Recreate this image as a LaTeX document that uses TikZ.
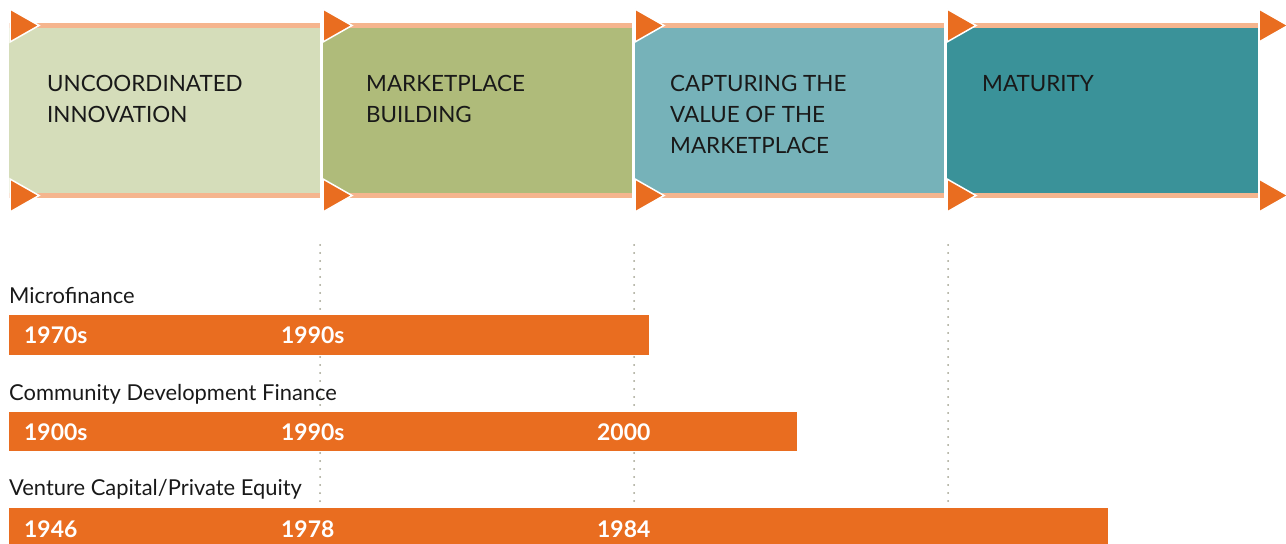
\documentclass[tikz,border=0pt]{standalone}
\usepackage{fontspec}
\setmainfont{Lato}
\definecolor{pinno}{HTML}{D5DDBA}
\definecolor{pbuild}{HTML}{AFBB7A}
\definecolor{pcapture}{HTML}{76B2B9}
\definecolor{pmature}{HTML}{3A9299}
\definecolor{orng}{HTML}{E96D20}
\definecolor{salmon}{HTML}{F5B58E}
\definecolor{dotgray}{HTML}{A0A08E}
\tikzset{
  panel/.style={rectangle, anchor=north west, inner sep=0, minimum height=165bp},
  band/.style={fill=salmon},
  tri/.style={fill=orng, draw=white, line width=1.5bp, line join=miter},
  phase/.style={anchor=north west, inner sep=0, align=left, text=black!90,
    font=\fontsize{22.5}{31}\selectfont},
  series/.style={anchor=base west, inner sep=0, text=black!90,
    font=\fontsize{22}{24}\selectfont},
  bar/.style={rectangle, anchor=north west, inner sep=0, fill=orng},
  year/.style={anchor=base west, inner sep=0, text=white,
    font=\fontsize{23}{26}\selectfont\bfseries},
  guide/.style={dotgray, line width=2bp, line cap=round, dash pattern=on 0bp off 8bp}
}
\begin{document}
\begin{tikzpicture}[x=1bp, y=-1bp]
      \useasboundingbox (0,0) rectangle (1286,544);
      % phase panels
      \node (p1)[panel, fill=pinno, minimum width=311bp] at (9,28){};
      \node (p2)[panel, fill=pbuild, minimum width=309bp] at (323,28){};
      \node (p3)[panel, fill=pcapture, minimum width=309bp] at (635,28){};
      \node (p4)[panel, fill=pmature, minimum width=311bp] at (947,28){};
      \fill[band] (9,23) rectangle (1258,28);
      \fill[band] (9,193) rectangle (1258,198);
      \fill[white] (320,23) rectangle (323,198);
      \fill[white] (632,23) rectangle (635,198);
      \fill[white] (944,23) rectangle (947,198);
      % arrow heads
      \filldraw[tri] (10,9) -- (10,42) -- (39,25.5) -- cycle;
      \filldraw[tri] (10,179) -- (10,212) -- (39,195.5) -- cycle;
      \filldraw[tri] (323,9) -- (323,42) -- (352,25.5) -- cycle;
      \filldraw[tri] (323,179) -- (323,212) -- (352,195.5) -- cycle;
      \filldraw[tri] (635,9) -- (635,42) -- (664,25.5) -- cycle;
      \filldraw[tri] (635,179) -- (635,212) -- (664,195.5) -- cycle;
      \filldraw[tri] (947,9) -- (947,42) -- (976,25.5) -- cycle;
      \filldraw[tri] (947,179) -- (947,212) -- (976,195.5) -- cycle;
      \filldraw[tri] (1259,9) -- (1259,42) -- (1288,25.5) -- cycle;
      \filldraw[tri] (1259,179) -- (1259,212) -- (1288,195.5) -- cycle;
      \node (t1)[phase] at (47,75){UNCOORDINATED\\INNOVATION};
      \node (t2)[phase] at (366,75){MARKETPLACE\\BUILDING};
      \node (t3)[phase] at (670,75){CAPTURING THE\\VALUE OF THE\\MARKETPLACE};
      \node (t4)[phase] at (982,75){MATURITY};
      % guide lines
      \coordinate (g1a) at (320,245);
      \coordinate (g1b) at (320,503);
      \coordinate (g2a) at (634,245);
      \coordinate (g2b) at (634,503);
      \coordinate (g3a) at (948,245);
      \coordinate (g3b) at (948,503);
      \draw[guide] (g1a)--(g1b);
      \draw[guide] (g2a)--(g2b);
      \draw[guide] (g3a)--(g3b);
      % timelines
      \node (mf)[series] at (9,304){Microfinance};
      \node (mfbar)[bar, minimum width=640bp, minimum height=40bp] at (9,315){};
      \node (mf1)[year] at (24,344){1970s};
      \node (mf2)[year] at (281,344){1990s};
      \node (cd)[series] at (9,400){Community Development Finance};
      \node (cdbar)[bar, minimum width=788bp, minimum height=39bp] at (9,412){};
      \node (cd1)[year] at (24,440){1900s};
      \node (cd2)[year] at (281,440){1990s};
      \node (cd3)[year] at (597,440){2000};
      \node (vc)[series] at (9,495){Venture Capital/Private Equity};
      \node (vcbar)[bar, minimum width=1099bp, minimum height=40bp] at (9,508){};
      \node (vc1)[year] at (24,537){1946};
      \node (vc2)[year] at (281,537){1978};
      \node (vc3)[year] at (597,537){1984};
    \end{tikzpicture}
\end{document}
